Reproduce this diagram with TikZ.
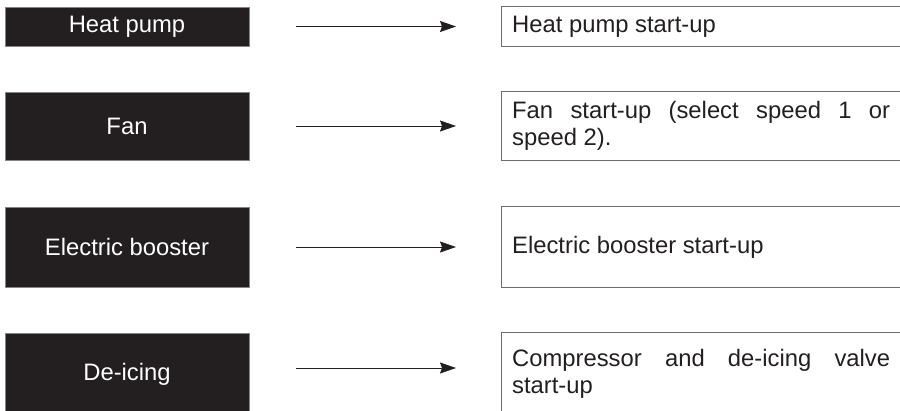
\documentclass[tikz,border=0pt]{standalone}
\usepackage{fontspec}
\setmainfont{Liberation Sans}
\usetikzlibrary{arrows.meta}
\definecolor{boxblack}{HTML}{231F20}
\definecolor{framegray}{HTML}{6D6E71}
\tolerance=9999
\hyphenpenalty=10000
\exhyphenpenalty=10000

\begin{document}
\begin{tikzpicture}[
    x=1pt, y=-1pt,
    unit/.style={fill=boxblack, draw=boxblack!55, line width=0.6pt, text=white, minimum width=244pt, inner sep=0pt, font=\fontsize{23.8}{27}\selectfont},
    action/.style={anchor=west, text=boxblack, text width=378pt, inner xsep=11pt, inner ysep=0pt, align=justify, font=\fontsize{23.8}{27}\selectfont},
    frame/.style={draw=framegray, line width=0.9pt},
    arr/.style={-{Stealth[length=16pt, width=11pt, inset=2pt]}, line width=1pt, draw=boxblack},
  ]
  \path[use as bounding box, clip] (0,0) rectangle (900,410);

  % Units on the left
  \node[unit, minimum height=39pt] (HP) at (127, 26.5) {Heat pump};
  \node[unit, minimum height=68pt] (FAN) at (127, 126) {Fan};
  \node[unit, minimum height=80pt] (EB) at (127, 247) {Electric booster};
  \node[unit, minimum height=82pt] (DI) at (127, 374) {De-icing};

  % What starts up, on the right
  \node[action, minimum height=39pt] (HPon) at (501, 26.5) {Heat pump start-up};
  \node[action, minimum height=68pt] (FANon) at (501, 126) {Fan start-up (select speed 1 or speed 2).};
  \node[action, minimum height=80pt] (EBon) at (501, 247) {Electric booster start-up};
  \node[action, minimum height=82pt] (DIon) at (501, 374) {Compressor and de-icing valve start-up};

  % frames run on past the right edge
  \foreach \n in {HPon, FANon, EBon, DIon}
    \draw[frame] (\n.north west) rectangle ([xshift=30pt]\n.south east);

  % Arrows
  \draw[arr] ([xshift=47pt]HP.east) -- ([xshift=-45pt]HPon.west);
  \draw[arr] ([xshift=47pt]FAN.east) -- ([xshift=-45pt]FANon.west);
  \draw[arr] ([xshift=47pt]EB.east) -- ([xshift=-45pt]EBon.west);
  \draw[arr] ([xshift=47pt, yshift=6pt]DI.east) -- ([xshift=-45pt, yshift=6pt]DIon.west);
\end{tikzpicture}
\end{document}
